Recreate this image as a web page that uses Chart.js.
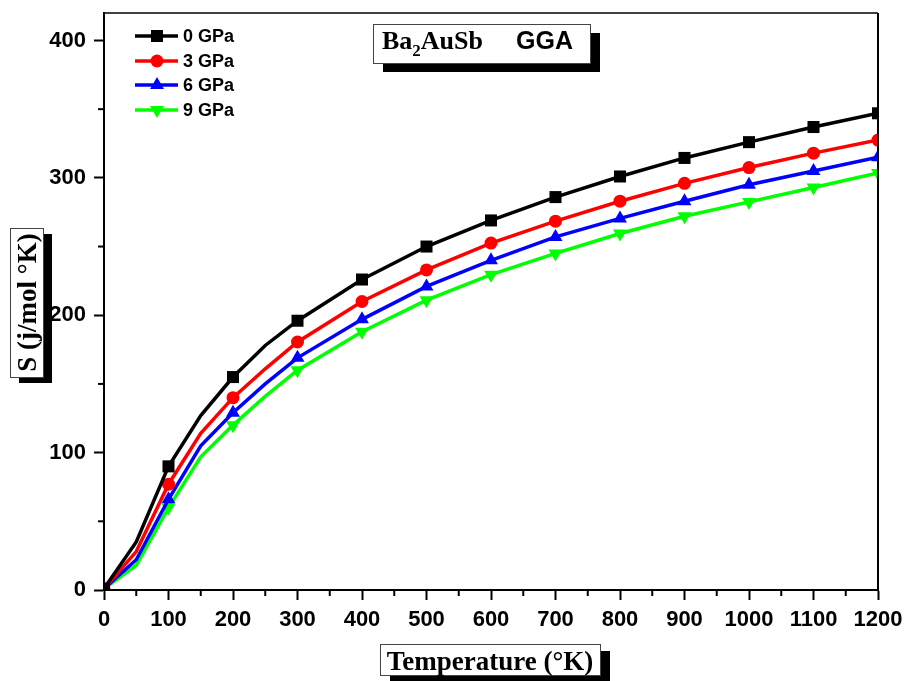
<!DOCTYPE html>
<html>
<head>
<meta charset="utf-8">
<script src="https://cdn.jsdelivr.net/npm/chart.js@4.4.0/dist/chart.umd.min.js"></script>
<style>
  body { margin: 0; background: #fff; }
  #wrap { width: 907px; height: 681px; }
</style>
</head>
<body>
<div id="wrap"><canvas id="line-chart"></canvas></div>
<script>
// Temperature (K) and entropy S (j/mol K) for each pressure
var temps = [0, 50, 100, 150, 200, 250, 300, 400, 500, 600, 700, 800, 900, 1000, 1100, 1200];
var s0 = [1, 35, 90, 127, 155, 178, 196, 226, 250, 269, 286, 301, 314.5, 326, 337, 347];
var s3 = [1, 28, 77, 114, 140, 161, 180.5, 210, 233, 252.5, 268.5, 283, 296, 307.5, 318, 327.5];
var s6 = [1, 22, 66, 105, 129, 150, 169, 197, 221, 240, 257, 270.5, 283, 295, 305, 315];
var s9 = [1, 18, 60, 97, 120, 141, 160, 188, 211, 229.5, 245, 259.5, 272, 282.5, 293, 303.5];
var labels = ["0 GPa", "3 GPa", "6 GPa", "9 GPa"];
var colors = ["#000000", "#ff0000", "#0000ff", "#00ff00"];
var styles = ["rect", "circle", "triangle", "triangle"];
var rotations = [0, 0, 0, 180];
var radii = [8.5, 6.5, 8, 8];

function pts(vals) {
    return temps.map(function (t, i) { return { x: t, y: vals[i] }; });
}

var series = [s0, s3, s6, s9];
var datasets = series.map(function (vals, i) {
    return {
        label: labels[i],
        data: pts(vals),
        borderColor: colors[i],
        backgroundColor: colors[i],
        borderWidth: 3.5,
        pointStyle: styles[i],
        rotation: rotations[i],
        pointRadius: function (ctx) { return ctx.raw && ctx.raw.x % 100 === 0 ? radii[i] : 0; },
        pointBorderWidth: 0,
        tension: 0
    };
});

var serif = "'Liberation Serif', 'Times New Roman', serif";
var sans = "'Liberation Sans', Arial, sans-serif";

function shadowBox(ctx, x, y, w, h, dx, dy) {
    ctx.fillStyle = "#000";
    ctx.fillRect(x + dx, y + dy, w, h);
    ctx.fillStyle = "#fff";
    ctx.fillRect(x, y, w, h);
    ctx.strokeStyle = "#444";
    ctx.lineWidth = 1;
    ctx.strokeRect(x + 0.5, y + 0.5, w, h);
}

var extras = {
    id: "extras",
    afterDraw: function (chart) {
        var ctx = chart.ctx;
        var a = chart.chartArea;
        var xs = chart.scales.x, ys = chart.scales.y;
        ctx.save();
        // top and right frame
        ctx.strokeStyle = "#000";
        ctx.lineWidth = 1.5;
        ctx.beginPath();
        ctx.moveTo(a.left, a.top);
        ctx.lineTo(a.right, a.top);
        ctx.stroke();
        ctx.lineWidth = 2;
        ctx.beginPath();
        ctx.moveTo(a.right, a.top);
        ctx.lineTo(a.right, a.bottom);
        ctx.stroke();
        // minor ticks
        ctx.lineWidth = 2;
        for (var t = 50; t < 1200; t += 100) {
            var px = xs.getPixelForValue(t);
            ctx.beginPath();
            ctx.moveTo(px, a.bottom);
            ctx.lineTo(px, a.bottom + 6);
            ctx.stroke();
        }
        for (var v = 50; v < 420; v += 100) {
            var py = ys.getPixelForValue(v);
            ctx.beginPath();
            ctx.moveTo(a.left, py);
            ctx.lineTo(a.left - 6, py);
            ctx.stroke();
        }

        // legend
        ctx.font = "bold 18px " + sans;
        ctx.textBaseline = "middle";
        ctx.textAlign = "left";
        var rows = [36, 61, 85, 110];
        for (var i = 0; i < 4; i++) {
            ctx.strokeStyle = colors[i];
            ctx.fillStyle = colors[i];
            ctx.lineWidth = 3.5;
            ctx.beginPath();
            ctx.moveTo(135, rows[i]);
            ctx.lineTo(178, rows[i]);
            ctx.stroke();
            Chart.helpers.drawPoint(ctx, { pointStyle: styles[i], radius: radii[i], rotation: rotations[i], borderWidth: 0 }, 157, rows[i]);
            ctx.fillStyle = "#000";
            ctx.fillText(labels[i], 183, rows[i] + 1);
        }

        // title box
        shadowBox(ctx, 373, 24, 217, 39, 10, 9);
        ctx.fillStyle = "#000";
        ctx.textBaseline = "alphabetic";
        ctx.font = "bold 26px " + serif;
        var x = 382;
        ctx.fillText("Ba", x, 49);
        x += ctx.measureText("Ba").width;
        ctx.font = "bold 17px " + serif;
        ctx.fillText("2", x, 56);
        x += ctx.measureText("2").width;
        ctx.font = "bold 26px " + serif;
        ctx.fillText("AuSb", x, 49);
        ctx.font = "bold 25px " + sans;
        ctx.fillText("GGA", 516, 49);

        // x axis title
        shadowBox(ctx, 380, 644, 220, 31, 10, 7);
        ctx.fillStyle = "#000";
        ctx.font = "bold 27px " + serif;
        ctx.textAlign = "center";
        ctx.fillText("Temperature (\u00b0K)", 490, 670);

        // y axis title
        shadowBox(ctx, 10, 228, 33, 149, 9, 6);
        ctx.save();
        ctx.translate(36, 302.5);
        ctx.rotate(-Math.PI / 2);
        ctx.fillStyle = "#000";
        ctx.font = "bold 27px " + serif;
        ctx.textAlign = "center";
        ctx.fillText("S (j/mol \u00b0K)", 0, 0);
        ctx.restore();

        ctx.restore();
    }
};

new Chart(document.getElementById("line-chart"), {
    type: "line",
    data: { datasets: datasets },
    plugins: [extras],
    options: {
        responsive: true,
        maintainAspectRatio: false,
        animation: false,
        layout: { padding: { left: 0, right: 29, top: 13, bottom: 0 } },
        plugins: {
            legend: { display: false },
            tooltip: { enabled: false }
        },
        scales: {
            x: {
                type: "linear",
                min: 0,
                max: 1200,
                ticks: {
                    stepSize: 100,
                    color: "#000",
                    font: { family: sans, size: 22, weight: "bold" },
                    padding: 7,
                    maxRotation: 0,
                    autoSkip: false,
                    callback: function (v) { return String(v); }
                },
                grid: { drawOnChartArea: false, tickLength: 10, tickWidth: 2, tickColor: "#000" },
                border: { color: "#000", width: 2 },
                afterFit: function (s) { s.height = 91; s.paddingLeft = 0; s.paddingRight = 0; }
            },
            y: {
                min: 0,
                max: 420,
                ticks: {
                    stepSize: 100,
                    color: "#000",
                    font: { family: sans, size: 22, weight: "bold" },
                    padding: 8,
                    callback: function (v) { return String(v); }
                },
                afterBuildTicks: function (s) {
                    s.ticks = s.ticks.filter(function (t) { return t.value % 100 === 0; });
                },
                grid: { drawOnChartArea: false, tickLength: 10, tickWidth: 2, tickColor: "#000" },
                border: { color: "#000", width: 2 },
                afterFit: function (s) { s.width = 104; s.paddingTop = 0; s.paddingBottom = 0; }
            }
        }
    }
});
</script>
</body>
</html>
